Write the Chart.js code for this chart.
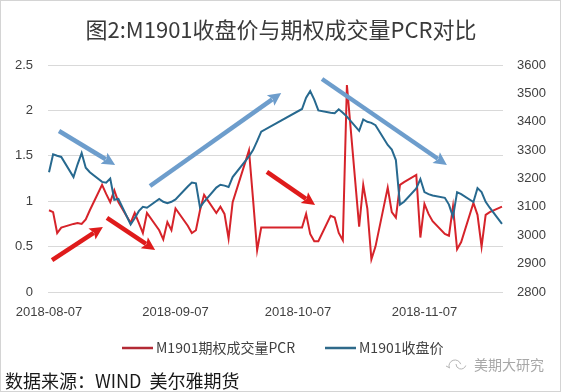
<!DOCTYPE html>
<html><head><meta charset="utf-8">
<script src="https://cdn.jsdelivr.net/npm/chart.js@4.4.1/dist/chart.umd.min.js"></script>
<style>html,body{margin:0;padding:0;background:#fff;overflow:hidden}canvas{display:block}</style>
</head><body>
<canvas id="c" width="561" height="392"></canvas>
<script>
const titleText = '图2:M1901收盘价与期权成交量PCR对比';
const seriesNames = ['M1901期权成交量PCR', 'M1901收盘价'];
const sourceText = '数据来源：WIND  美尔雅期货';
const watermarkText = '美期大研究';

const dates = ['2018-08-07','2018-08-08','2018-08-09','2018-08-10','2018-08-13','2018-08-14','2018-08-15','2018-08-16','2018-08-17','2018-08-20','2018-08-21','2018-08-22','2018-08-23','2018-08-24','2018-08-27','2018-08-28','2018-08-29','2018-08-30','2018-08-31',
'2018-09-03','2018-09-04','2018-09-05','2018-09-06','2018-09-07','2018-09-10','2018-09-11','2018-09-12','2018-09-13','2018-09-14','2018-09-17','2018-09-18','2018-09-19','2018-09-20','2018-09-21','2018-09-25','2018-09-26','2018-09-27','2018-09-28',
'2018-10-08','2018-10-09','2018-10-10','2018-10-11','2018-10-12','2018-10-15','2018-10-16','2018-10-17','2018-10-18','2018-10-19','2018-10-22','2018-10-23','2018-10-24','2018-10-25','2018-10-26','2018-10-29','2018-10-30','2018-10-31',
'2018-11-01','2018-11-02','2018-11-05','2018-11-06','2018-11-07','2018-11-08','2018-11-09','2018-11-12','2018-11-13','2018-11-14','2018-11-15','2018-11-16','2018-11-19','2018-11-20','2018-11-21','2018-11-22','2018-11-23','2018-11-26'];

const pcr = [0.90,0.88,0.65,0.71,0.75,0.76,0.75,0.80,0.90,1.18,1.08,0.99,1.12,0.99,0.76,0.87,0.76,0.65,0.87,
0.68,0.58,0.77,0.68,0.92,0.73,0.65,0.68,0.90,1.07,0.87,0.94,0.86,0.59,0.99,1.56,1.02,0.46,0.71,
0.71,0.86,0.64,0.56,0.56,0.84,0.82,0.65,0.57,2.28,0.72,1.18,0.92,0.36,0.50,1.15,0.88,0.82,
1.18,1.21,1.29,0.60,0.97,0.86,0.78,0.64,0.62,0.94,0.47,0.55,0.98,0.85,0.50,0.85,0.88,0.94];

const closePrice = [3222,3285,3280,3276,3205,3250,3290,3238,3222,3188,3185,3200,3125,3128,3038,3060,3085,3100,3097,
3128,3118,3113,3118,3126,3172,3186,3183,3098,3118,3168,3178,3175,3170,3205,3278,3300,3332,3365,
3445,3485,3508,3478,3440,3432,3430,3444,3432,3418,3368,3408,3400,3396,3388,3318,3302,3265,
3108,3118,3165,3198,3152,3145,3140,3132,3108,3065,3152,3145,3117,3166,3152,3118,3097,3040];

const xTickLabels = ['2018-08-07','2018-09-07','2018-10-07','2018-11-07'];

// trend arrows drawn on the chart: [x (days from first date), PCR-axis value]
const trendArrows = [
  {color:'#6d9dcc', from:[2.45,1.773], to:[16.2,1.399]},
  {color:'#6d9dcc', from:[24.75,1.167], to:[56.9,2.192]},
  {color:'#6d9dcc', from:[66.9,2.346], to:[97.5,1.399]},
  {color:'#df1b1b', from:[0.74,0.352], to:[13.2,0.716]},
  {color:'#df1b1b', from:[14.2,0.815], to:[26.0,0.463]},
  {color:'#df1b1b', from:[53.4,1.322], to:[65.2,0.958]}
];

const BASE = Date.UTC(2018,7,7);
function dayOf(s){ const p=s.split('-').map(Number); return (Date.UTC(p[0],p[1]-1,p[2])-BASE)/86400000; }

const RED = '#d6232a', BLUE = '#27698f';
const pcrData = dates.map((d,i)=>({x:dayOf(d), y:pcr[i]}));
const closeData = dates.map((d,i)=>({x:dayOf(d), y:closePrice[i]}));

const CJK = '"Noto Sans CJK SC", "Liberation Sans", sans-serif';

function drawArrow(ctx,x1,y1,x2,y2,color,w,hl,hw){
  const a=Math.atan2(y2-y1,x2-x1);
  const bx=x2-hl*Math.cos(a), by=y2-hl*Math.sin(a);
  ctx.save();
  ctx.strokeStyle=color; ctx.lineWidth=w; ctx.lineCap='butt';
  ctx.beginPath(); ctx.moveTo(x1,y1); ctx.lineTo(bx+2*Math.cos(a),by+2*Math.sin(a)); ctx.stroke();
  ctx.fillStyle=color; ctx.beginPath(); ctx.moveTo(x2,y2);
  ctx.lineTo(bx+hw*Math.sin(a), by-hw*Math.cos(a));
  ctx.lineTo(bx+2.5*Math.cos(a), by+2.5*Math.sin(a));
  ctx.lineTo(bx-hw*Math.sin(a), by+hw*Math.cos(a));
  ctx.closePath(); ctx.fill();
  ctx.restore();
}

const decor = {
  id:'decor',
  beforeDraw(chart){
    const ctx=chart.ctx;
    ctx.save(); ctx.fillStyle='#fff'; ctx.fillRect(0,0,chart.width,chart.height); ctx.restore();
  },
  afterDatasetsDraw(chart){
    const ctx=chart.ctx, xs=chart.scales.x, ys=chart.scales.y;
    trendArrows.forEach(a=>{
      drawArrow(ctx, xs.getPixelForValue(a.from[0]), ys.getPixelForValue(a.from[1]),
        xs.getPixelForValue(a.to[0]), ys.getPixelForValue(a.to[1]), a.color, 4.5, 13, 6.5);
    });
  },
  afterDraw(chart){
    const ctx=chart.ctx;
    ctx.save();
    ctx.fillStyle='#3a3a3a'; ctx.font='22px '+CJK; ctx.textAlign='center'; ctx.textBaseline='middle';
    ctx.fillText(titleText, 281, 30);
    ctx.font='14px '+CJK; ctx.textAlign='left'; ctx.fillStyle='#404040';
    const items=[{x:122,c:'#b32a35'},{x:325,c:'#2f6a8a'}];
    items.forEach((it,i)=>{
      ctx.strokeStyle=it.c; ctx.lineWidth=2.5;
      ctx.beginPath(); ctx.moveTo(it.x,348); ctx.lineTo(it.x+31,348); ctx.stroke();
      ctx.fillText(chart.data.datasets[i].label, it.x+34, 348);
    });
    ctx.fillStyle='#a8a8a8'; ctx.font='14px '+CJK;
    ctx.fillText(watermarkText, 474, 365);
    ctx.strokeStyle='#b5b5b5'; ctx.lineWidth=1;
    ctx.beginPath(); ctx.arc(455,366,6,Math.PI*0.9,Math.PI*1.9); ctx.stroke();
    ctx.beginPath(); ctx.arc(461,364,5,Math.PI*0.1,Math.PI*1.0); ctx.stroke();
    ctx.beginPath(); ctx.moveTo(446,366); ctx.lineTo(450,368); ctx.stroke();
    ctx.fillStyle='#1a1a1a'; ctx.font='18px '+CJK;
    ctx.fillText(sourceText, 5, 381);
    ctx.strokeStyle='#d4d4d4'; ctx.lineWidth=1;
    ctx.strokeRect(0.5,0.5,chart.width-1,chart.height-1);
    ctx.restore();
  }
};

const tickFont = {family:'"Liberation Sans"', size:13};
new Chart(document.getElementById('c'), {
  type:'line',
  data:{ datasets:[
    {label:seriesNames[0], data:pcrData, yAxisID:'y', borderColor:RED, borderWidth:2, pointRadius:0, tension:0, order:1},
    {label:seriesNames[1], data:closeData, yAxisID:'y1', borderColor:BLUE, borderWidth:2, pointRadius:0, tension:0, order:0}
  ]},
  options:{
    responsive:false, animation:false, devicePixelRatio:1,
    layout:{padding:{top:65,left:0,right:0,bottom:0}},
    plugins:{legend:{display:false}, title:{display:false}, tooltip:{enabled:false}},
    scales:{
      x:{type:'linear', min:dayOf(dates[0])-0.25, max:dayOf(dates[dates.length-1])+0.25,
        grid:{display:false, drawTicks:false}, border:{display:false},
        afterBuildTicks:(ax)=>{ ax.ticks = xTickLabels.map(s=>({value:dayOf(s)})); },
        afterFit:(s)=>{ s.height=100; },
        ticks:{autoSkip:false, maxRotation:0, padding:13, color:'#404040', font:tickFont,
          callback:(v,i)=>xTickLabels[i]}
      },
      y:{position:'left', min:0, max:2.5,
        ticks:{stepSize:0.5, padding:15, color:'#404040', font:tickFont, callback:(v)=>String(+v.toFixed(1))},
        grid:{color:'#d9d9d9', lineWidth:1, drawTicks:false}, border:{display:false},
        afterFit:(s)=>{ s.width=48; }
      },
      y1:{position:'right', min:2800, max:3600,
        ticks:{stepSize:100, padding:14, color:'#404040', font:tickFont, callback:(v)=>String(Math.round(v))},
        grid:{display:false, drawTicks:false}, border:{display:false},
        afterFit:(s)=>{ s.width=58; }
      }
    }
  },
  plugins:[decor]
});
</script>
</body></html>
